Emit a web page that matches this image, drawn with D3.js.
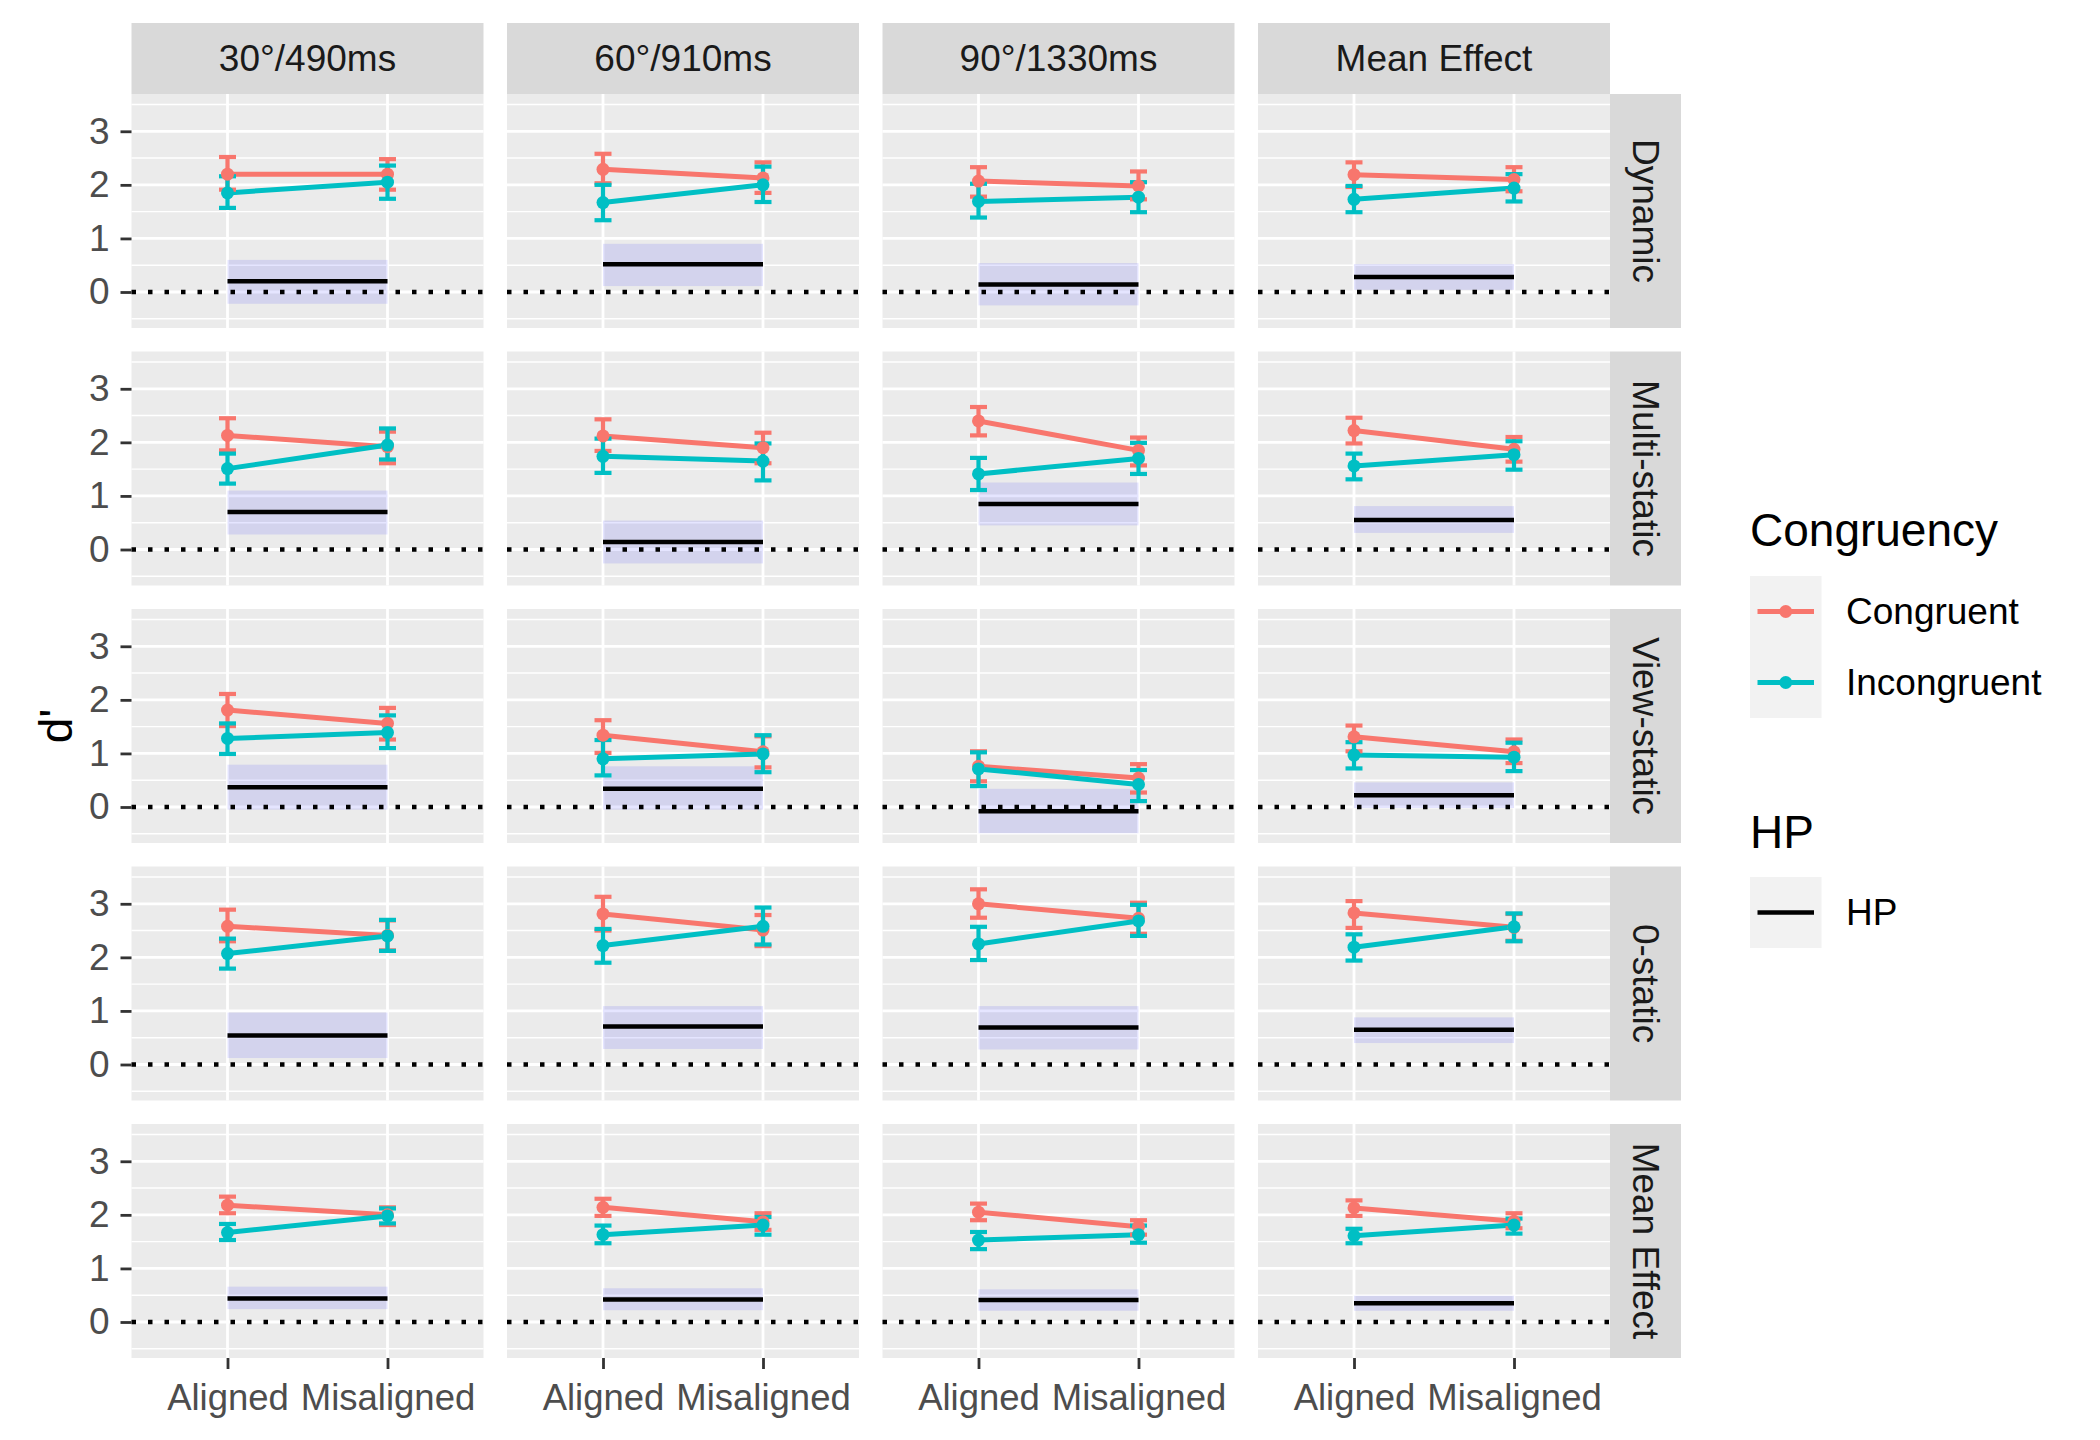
<!DOCTYPE html>
<html><head><meta charset="utf-8">
<script src="https://cdn.jsdelivr.net/npm/d3@7"></script>
<style>body{margin:0;background:#fff} svg{display:block}</style>
</head><body>
<svg id="chart" width="2100" height="1440"></svg>
<script>
// ---------------- DATA ----------------
const rows = ["Dynamic", "Multi-static", "View-static", "0-static", "Mean Effect"];
const cols = ["30°/490ms", "60°/910ms", "90°/1330ms", "Mean Effect"];
const alignment = ["Aligned", "Misaligned"];
const congruency = ["Congruent", "Incongruent"];
const yTicks = [0, 1, 2, 3];
const yMinor = [-0.5, 0.5, 1.5, 2.5, 3.5];

// [row][col][Aligned, Misaligned]
const congMean = [
  [[2.20, 2.20], [2.29, 2.13], [2.07, 1.98], [2.19, 2.10]],
  [[2.13, 1.92], [2.12, 1.90], [2.40, 1.85], [2.22, 1.87]],
  [[1.81, 1.56], [1.34, 1.03], [0.76, 0.54], [1.31, 1.03]],
  [[2.58, 2.41], [2.81, 2.51], [3.00, 2.73], [2.83, 2.56]],
  [[2.18, 2.00], [2.14, 1.87], [2.05, 1.78], [2.13, 1.88]]
];
const congLo = [
  [[1.91, 1.91], [2.03, 1.85], [1.78, 1.73], [1.96, 1.88]],
  [[1.85, 1.61], [1.84, 1.61], [2.13, 1.57], [1.98, 1.64]],
  [[1.51, 1.26], [1.01, 0.74], [0.48, 0.27], [1.04, 0.82]],
  [[2.30, 2.13], [2.50, 2.21], [2.74, 2.44], [2.55, 2.31]],
  [[2.03, 1.81], [1.98, 1.72], [1.90, 1.63], [1.98, 1.75]]
];
const congHi = [
  [[2.52, 2.48], [2.58, 2.42], [2.33, 2.25], [2.42, 2.33]],
  [[2.45, 2.20], [2.43, 2.18], [2.66, 2.09], [2.46, 2.10]],
  [[2.11, 1.85], [1.62, 1.32], [1.04, 0.80], [1.52, 1.26]],
  [[2.89, 2.69], [3.13, 2.79], [3.27, 3.02], [3.05, 2.81]],
  [[2.34, 2.14], [2.30, 2.03], [2.21, 1.90], [2.27, 2.03]]
];
const incMean = [
  [[1.85, 2.05], [1.67, 2.00], [1.69, 1.77], [1.73, 1.94]],
  [[1.51, 1.95], [1.74, 1.65], [1.41, 1.70], [1.56, 1.77]],
  [[1.28, 1.39], [0.90, 0.99], [0.71, 0.42], [0.97, 0.93]],
  [[2.07, 2.40], [2.22, 2.58], [2.25, 2.68], [2.19, 2.57]],
  [[1.67, 1.98], [1.63, 1.81], [1.53, 1.63], [1.61, 1.81]]
];
const incLo = [
  [[1.57, 1.74], [1.34, 1.68], [1.39, 1.49], [1.49, 1.69]],
  [[1.23, 1.68], [1.43, 1.29], [1.11, 1.41], [1.31, 1.49]],
  [[0.99, 1.10], [0.59, 0.65], [0.39, 0.11], [0.72, 0.67]],
  [[1.79, 2.12], [1.90, 2.24], [1.95, 2.40], [1.94, 2.30]],
  [[1.53, 1.84], [1.47, 1.63], [1.36, 1.48], [1.47, 1.65]]
];
const incHi = [
  [[2.16, 2.36], [2.00, 2.34], [2.02, 2.05], [1.98, 2.20]],
  [[1.79, 2.26], [2.07, 1.98], [1.71, 1.99], [1.79, 2.02]],
  [[1.56, 1.71], [1.25, 1.34], [1.02, 0.69], [1.21, 1.20]],
  [[2.35, 2.70], [2.53, 2.93], [2.57, 2.98], [2.43, 2.82]],
  [[1.83, 2.12], [1.80, 1.96], [1.68, 1.80], [1.74, 1.93]]
];
// HP effect per [row][col]
const hpMean = [
  [0.20, 0.52, 0.14, 0.28],
  [0.70, 0.14, 0.85, 0.55],
  [0.37, 0.34, -0.08, 0.22],
  [0.54, 0.71, 0.69, 0.65],
  [0.44, 0.42, 0.41, 0.35]
];
const hpLo = [
  [-0.22, 0.11, -0.25, 0.04],
  [0.28, -0.26, 0.45, 0.31],
  [-0.05, -0.05, -0.49, -0.02],
  [0.12, 0.29, 0.28, 0.40],
  [0.24, 0.22, 0.21, 0.21]
];
const hpHi = [
  [0.60, 0.90, 0.54, 0.52],
  [1.10, 0.54, 1.25, 0.81],
  [0.79, 0.76, 0.34, 0.46],
  [0.97, 1.09, 1.09, 0.88],
  [0.66, 0.63, 0.61, 0.49]
];

// ---------------- LAYOUT ----------------
const FONT = "'Liberation Sans', Arial, sans-serif";
const colors = {Congruent: "#F8766D", Incongruent: "#00BFC4"};
const panelW = 352, panelH = 234, gap = 23.5;
const left0 = 131.5, top0 = 94, stripH = 71;

const svg = d3.select("#chart");
const x = d3.scalePoint().domain(alignment).range([0, panelW]).padding(0.6);
const y = d3.scaleLinear().domain([-0.672, 3.696]).range([panelH, 0]);

const seriesData = {
  Congruent: {m: congMean, lo: congLo, hi: congHi},
  Incongruent: {m: incMean, lo: incLo, hi: incHi}
};

rows.forEach((rName, ri) => {
  cols.forEach((cName, ci) => {
    const px = left0 + ci * (panelW + gap);
    const py = top0 + ri * (panelH + gap);
    const g = svg.append("g").attr("transform", `translate(${px},${py})`);
    g.append("rect").attr("width", panelW).attr("height", panelH).attr("fill", "#EBEBEB");
    g.selectAll(".minor").data(yMinor).enter().append("line")
      .attr("x1", 0).attr("x2", panelW).attr("y1", d => y(d)).attr("y2", d => y(d))
      .attr("stroke", "#fff").attr("stroke-width", 1.4);
    g.selectAll(".major").data(yTicks).enter().append("line")
      .attr("x1", 0).attr("x2", panelW).attr("y1", d => y(d)).attr("y2", d => y(d))
      .attr("stroke", "#fff").attr("stroke-width", 2.8);
    g.selectAll(".vmajor").data(alignment).enter().append("line")
      .attr("x1", d => x(d)).attr("x2", d => x(d)).attr("y1", 0).attr("y2", panelH)
      .attr("stroke", "#fff").attr("stroke-width", 2.8);

    // HP band & line
    g.append("rect")
      .attr("x", x("Aligned")).attr("width", x("Misaligned") - x("Aligned"))
      .attr("y", y(hpHi[ri][ci])).attr("height", y(hpLo[ri][ci]) - y(hpHi[ri][ci]))
      .attr("fill", "blue").attr("fill-opacity", 0.1);
    g.append("line")
      .attr("x1", x("Aligned")).attr("x2", x("Misaligned"))
      .attr("y1", y(hpMean[ri][ci])).attr("y2", y(hpMean[ri][ci]))
      .attr("stroke", "#000").attr("stroke-width", 4.5);
    // zero dotted line
    g.append("line").attr("x1", 0).attr("x2", panelW).attr("y1", y(0)).attr("y2", y(0))
      .attr("stroke", "#000").attr("stroke-width", 4.5).attr("stroke-dasharray", "4.5,12");

    // lines
    congruency.forEach(s => {
      const vals = seriesData[s].m[ri][ci];
      g.append("path")
        .attr("d", d3.line().x((d, i) => x(alignment[i])).y(d => y(d))(vals))
        .attr("fill", "none").attr("stroke", colors[s]).attr("stroke-width", 5);
    });
    // error bars
    congruency.forEach(s => {
      alignment.forEach((a, i) => {
        const lo = seriesData[s].lo[ri][ci][i], hi = seriesData[s].hi[ri][ci][i];
        const cx = x(a);
        const eg = g.append("g").attr("stroke", colors[s]).attr("stroke-width", 4.2);
        eg.append("line").attr("x1", cx).attr("x2", cx).attr("y1", y(lo)).attr("y2", y(hi));
        eg.append("line").attr("x1", cx - 8.5).attr("x2", cx + 8.5).attr("y1", y(lo)).attr("y2", y(lo));
        eg.append("line").attr("x1", cx - 8.5).attr("x2", cx + 8.5).attr("y1", y(hi)).attr("y2", y(hi));
      });
    });
    // points
    congruency.forEach(s => {
      g.selectAll(null).data(seriesData[s].m[ri][ci]).enter().append("circle")
        .attr("cx", (d, i) => x(alignment[i])).attr("cy", d => y(d)).attr("r", 6.5)
        .attr("fill", colors[s]);
    });

    // y axis
    if (ci === 0) {
      const ax = g.append("g").call(d3.axisLeft(y).tickValues(yTicks).tickSize(11).tickPadding(11).tickFormat(d3.format("d")));
      ax.select(".domain").remove();
      ax.selectAll(".tick line").attr("stroke", "#333").attr("stroke-width", 2.8);
      ax.selectAll(".tick text").attr("fill", "#4D4D4D").style("font-size", "37px").style("font-family", FONT);
    }
    // x axis
    if (ri === rows.length - 1) {
      const ax = g.append("g").attr("transform", `translate(0,${panelH})`)
        .call(d3.axisBottom(x).tickSize(11).tickPadding(15));
      ax.select(".domain").remove();
      ax.selectAll(".tick line").attr("stroke", "#333").attr("stroke-width", 2.8);
      ax.selectAll(".tick text").attr("fill", "#4D4D4D").style("font-size", "36.5px").style("font-family", FONT);
    }
    // top strip
    if (ri === 0) {
      svg.append("rect").attr("x", px).attr("y", top0 - stripH).attr("width", panelW).attr("height", stripH).attr("fill", "#D9D9D9");
      svg.append("text").attr("x", px + panelW / 2).attr("y", top0 - stripH / 2)
        .attr("text-anchor", "middle").attr("dominant-baseline", "central")
        .attr("fill", "#1A1A1A").style("font-size", "37px").style("font-family", FONT).text(cName);
    }
    // right strip
    if (ci === cols.length - 1) {
      const sx = px + panelW;
      svg.append("rect").attr("x", sx).attr("y", py).attr("width", stripH).attr("height", panelH).attr("fill", "#D9D9D9");
      svg.append("text").attr("transform", `translate(${sx + stripH / 2},${py + panelH / 2}) rotate(90)`)
        .attr("text-anchor", "middle").attr("dominant-baseline", "central")
        .attr("fill", "#1A1A1A").style("font-size", "37px").style("font-family", FONT).text(rName);
    }
  });
});

// y axis title
const plotMidY = top0 + (rows.length * panelH + (rows.length - 1) * gap) / 2;
svg.append("text").attr("transform", `translate(56,${plotMidY}) rotate(-90)`)
  .attr("text-anchor", "middle").attr("dominant-baseline", "central")
  .attr("fill", "#000").style("font-size", "46px").style("font-family", FONT).text("d'");

// ---------------- LEGEND ----------------
const lgX = 1750, keyW = 71.5, keyH = 71;
svg.append("text").attr("x", lgX).attr("y", 546).attr("fill", "#000")
  .style("font-size", "46px").style("font-family", FONT).text("Congruency");
congruency.forEach((s, i) => {
  const ky = 576 + i * keyH;
  svg.append("rect").attr("x", lgX).attr("y", ky).attr("width", keyW).attr("height", keyH).attr("fill", "#F2F2F2");
  svg.append("line").attr("x1", lgX + 7.5).attr("x2", lgX + keyW - 7.5).attr("y1", ky + keyH / 2).attr("y2", ky + keyH / 2)
    .attr("stroke", colors[s]).attr("stroke-width", 5);
  svg.append("circle").attr("cx", lgX + keyW / 2).attr("cy", ky + keyH / 2).attr("r", 6.5).attr("fill", colors[s]);
  svg.append("text").attr("x", 1846).attr("y", ky + keyH / 2).attr("dominant-baseline", "central")
    .attr("fill", "#000").style("font-size", "37px").style("font-family", FONT).text(s);
});
svg.append("text").attr("x", lgX).attr("y", 848).attr("fill", "#000")
  .style("font-size", "46px").style("font-family", FONT).text("HP");
svg.append("rect").attr("x", lgX).attr("y", 877).attr("width", keyW).attr("height", keyH).attr("fill", "#F2F2F2");
svg.append("line").attr("x1", lgX + 7.5).attr("x2", lgX + keyW - 7.5).attr("y1", 877 + keyH / 2).attr("y2", 877 + keyH / 2)
  .attr("stroke", "#000").attr("stroke-width", 4.5);
svg.append("text").attr("x", 1846).attr("y", 877 + keyH / 2).attr("dominant-baseline", "central")
  .attr("fill", "#000").style("font-size", "37px").style("font-family", FONT).text("HP");
</script>
</body></html>
